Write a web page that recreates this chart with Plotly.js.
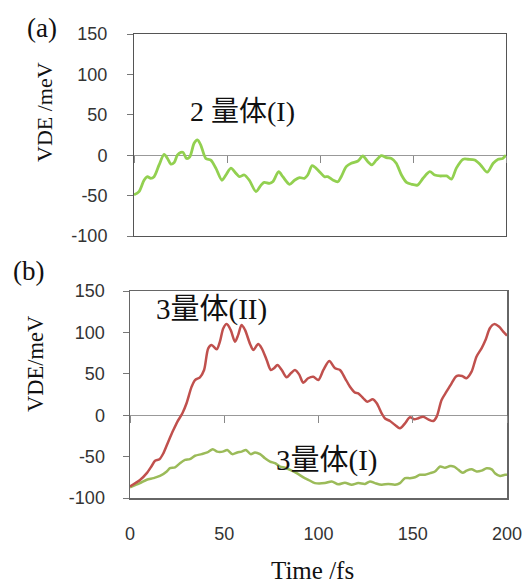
<!DOCTYPE html>
<html>
<head>
<meta charset="utf-8">
<script src="https://cdn.plot.ly/plotly-3.0.1.min.js"></script>
<style>html,body{margin:0;padding:0;background:#fff;}#chart{width:524px;height:587px;}</style>
</head>
<body>
<div id="chart"></div>
<script>
// (a) 2量体(I)
const timeA = [0,2.7,5.4,7.2,9,10.8,13.5,16.2,18,19.8,21.6,23.3,25.2,26.4,28.2,30,32.3,34.1,35.9,38.6,41.3,44,47.3,49.4,52.1,54.8,56.6,59.3,62,65.6,68.3,70,72.8,74.6,77.8,80,83.6,86.3,89,91.6,93.4,95.8,97.8,99.7,102.4,104.2,106.9,109.6,111.4,114.1,116.8,120.4,123,125.7,127.9,130.3,133,135.7,138.4,141,143.8,146.5,149.2,152.4,155.4,159,161.7,164.4,168,170.7,173.3,177,179.6,183.2,186.3,189.9,193.1,195.8,198.2,200];
const dimerI = [-49,-45,-31,-26.6,-28.6,-26.6,-12,1,-4,-11,-9,0,3.5,3.5,-4,-2,14.7,19,12.6,-4,-6,-16,-31,-24.5,-16,-22.4,-26.6,-24.5,-31,-45,-37,-33.6,-34.8,-32.8,-20.4,-26.6,-36,-31,-27.8,-28.6,-24.5,-13,-16,-20.4,-26.6,-26.6,-30.7,-32.8,-26.6,-14.2,-10,-7.2,-1,-8,-12,-6,-0.6,-3,-4,-10,-24.5,-33.6,-36,-37,-28.6,-20.4,-24.5,-25.7,-25.7,-29.5,-16,-5,-5,-6,-12,-21,-10,-5,-4,0];

// (b) 3量体(II)
const timeB2 = [0,5.3,8.9,11.5,13.3,15.6,17.7,20.3,23,25.1,27.8,30,32.7,34.5,37.1,39.3,41.5,43.3,46,47.7,49.5,51.3,53.4,55.7,57.4,59.2,61,63.7,65.4,68,69.9,72.5,74.7,76.4,78.2,80.5,83.1,85.3,87.5,89.8,91.9,94.5,97.2,99.9,102.6,105.7,108.8,111.4,114.1,116.7,119.4,121.1,123.8,125.9,128.8,130.9,133.5,135.3,137.9,140.6,143.2,145.9,148.5,150.8,152.9,155.5,158.2,160.9,162.7,165.3,167.9,170.6,173.2,176.2,178.5,181.2,183.8,186.5,188.6,190.9,193.2,195.7,198,200];
const trimerII = [-86,-78.3,-70,-61.4,-55,-53.3,-46,-32,-18,-8,2.3,14.4,34.5,42.5,45.8,54.6,80.8,84.8,79.6,88.8,105,110,103,88.8,97,109,103,86,78.7,86,80.8,66.7,54.6,56.6,60.6,54.6,45.8,50.6,54.6,49,39.3,44.6,46.5,42.5,54.6,65.5,56.6,54.6,44.6,34.4,27.2,26.4,20.4,16.3,19.2,14.4,2.3,-4,-7,-11.8,-15.8,-9.8,-2.5,-5,-3.7,-1.8,-5,-7,-1.8,18.4,28.4,38.5,47.3,47.3,44.6,52.6,70.7,80.8,90.8,105,110,107,101,96];

// (b) 3量体(I)
const timeB1 = [0,5.3,8.9,12.4,15.9,19.5,21.2,23.9,26.5,29.2,31.8,34.5,38,41,43.9,46.3,49.2,51.6,54.3,56.9,59.2,61.5,64,66.3,69,71.6,74.3,76.9,79.6,82.2,84.9,88.4,92,94.6,98.1,103.4,107,110.5,114,117.6,121.1,124.7,127.3,130,133.5,137,140.6,143.2,145.9,148.5,151.2,153.8,156.5,159.2,161.8,164.5,167.1,169.8,171.9,174.2,176.5,178.6,181.2,183.9,186.5,189.2,191.9,193.6,196.3,198.9,200];
const trimerI = [-87,-82,-78,-76,-73.4,-68,-64,-63,-58,-54,-53,-49,-47,-45,-41,-44,-44,-42,-47,-45,-44,-42,-47,-45,-47,-52,-56,-58,-62,-63.4,-66,-70,-75,-78,-82,-82,-80,-83.5,-81.5,-84,-82,-83,-80,-82,-84,-83,-84,-82,-76,-76,-75,-72,-72,-70,-68,-62,-63.4,-61.4,-62,-66,-69.5,-67,-65.4,-68,-67,-64,-65.4,-70,-73.4,-72,-72];

const yTicks = [-100,-50,0,50,100,150];
const xTicks = [0,50,100,150,200];

const W = 524, H = 587;
const px = v => v / W;
const py = v => 1 - v / H;

const serif = "Liberation Serif, Noto Sans CJK JP, serif";
const tickFont = {family: "Liberation Sans, Arial, sans-serif", size: 18, color: "#333"};

const domA = [px(134), px(506)];
const domB = [px(130), px(507)];

const traces = [
  {x: timeA, y: dimerI, xaxis: 'x', yaxis: 'y', mode: 'lines', line: {color: 'rgb(146,208,80)', width: 2.8, shape: 'spline', smoothing: 0.8}, hoverinfo: 'skip'},
  {x: timeB1, y: trimerI, xaxis: 'x2', yaxis: 'y2', mode: 'lines', line: {color: 'rgb(155,187,89)', width: 2.5, shape: 'spline', smoothing: 0.8}, hoverinfo: 'skip'},
  {x: timeB2, y: trimerII, xaxis: 'x2', yaxis: 'y2', mode: 'lines', line: {color: 'rgb(192,80,77)', width: 2.5, shape: 'spline', smoothing: 0.8}, hoverinfo: 'skip'},
  // empty traces that only register the zero-line tick axes
  {x: [], y: [], xaxis: 'x3', yaxis: 'y', mode: 'lines', hoverinfo: 'skip'},
  {x: [], y: [], xaxis: 'x4', yaxis: 'y2', mode: 'lines', hoverinfo: 'skip'}
];

const yBase = {
  range: [-100, 150], tickvals: yTicks, ticktext: yTicks.map(String),
  showline: true, mirror: true, linewidth: 1,
  ticks: 'outside', ticklen: 6, tickcolor: '#777',
  showgrid: false, zeroline: true, zerolinecolor: '#999', zerolinewidth: 1,
  tickfont: tickFont, fixedrange: true
};

const ann = (text, x, y, size, extra) => Object.assign({
  text: text, x: px(x), y: py(y), xref: 'paper', yref: 'paper',
  xanchor: 'center', yanchor: 'middle', showarrow: false,
  font: {family: serif, size: size, color: '#111'}
}, extra || {});

const layout = {
  width: W, height: H,
  margin: {l: 0, r: 0, t: 0, b: 0},
  paper_bgcolor: '#fff', plot_bgcolor: '#fff',
  showlegend: false,
  xaxis: {domain: domA, anchor: 'y', range: [0, 200], showline: true, mirror: true, linecolor: '#555', linewidth: 1, ticks: '', showticklabels: false, showgrid: false, zeroline: false, fixedrange: true},
  xaxis3: {domain: domA, overlaying: 'x', anchor: 'free', position: py(155.2), range: [0, 200], tickvals: xTicks, ticks: 'outside', ticklen: 7, tickcolor: '#888', showticklabels: false, showline: false, showgrid: false, zeroline: false, fixedrange: true},
  yaxis: Object.assign({}, yBase, {domain: [py(236), py(34)], anchor: 'x', linecolor: '#555', ticklabelstandoff: 16}),
  xaxis2: {domain: domB, anchor: 'y2', range: [0, 200], tickvals: xTicks, ticktext: xTicks.map(String), showline: true, mirror: true, linecolor: '#666', linewidth: 1.5, ticks: '', showticklabels: true, tickfont: tickFont, ticklabelstandoff: 19, showgrid: false, zeroline: false, fixedrange: true},
  xaxis4: {domain: domB, overlaying: 'x2', anchor: 'free', position: py(415.2), range: [0, 200], tickvals: xTicks, ticks: 'outside', ticklen: 7, tickcolor: '#888', showticklabels: false, showline: false, showgrid: false, zeroline: false, fixedrange: true},
  yaxis2: Object.assign({}, yBase, {domain: [py(498), py(291)], anchor: 'x2', linecolor: '#666', linewidth: 1.5, ticklabelstandoff: 14}),
  annotations: [
    ann('(a)', 42, 28, 27),
    ann('(b)', 28, 271, 27),
    ann('VDE /meV', 44, 112, 22, {textangle: -90}),
    ann('VDE/meV', 35, 364, 22.5, {textangle: -90}),
    ann('2 量体(I)', 242, 111, 28),
    ann('3量体(II)', 211, 309, 29),
    ann('3量体(I)', 326, 460, 29),
    ann('Time /fs', 312, 570, 25)
  ]
};

Plotly.newPlot('chart', traces, layout, {staticPlot: true, displayModeBar: false});
</script>
</body>
</html>
